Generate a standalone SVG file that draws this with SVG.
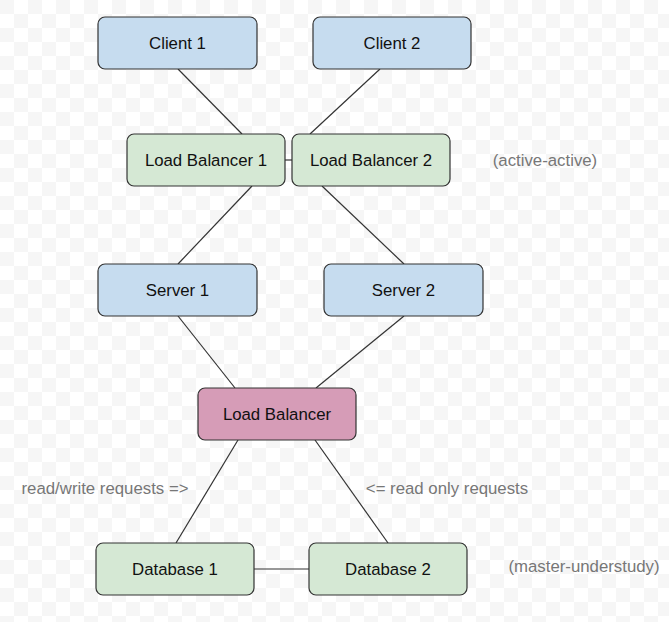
<svg xmlns="http://www.w3.org/2000/svg" width="669" height="622" viewBox="0 0 669 622">
<style>
.n rect{stroke:#333;stroke-width:1.2}
.b rect{fill:#c6dcef}.g rect{fill:#d5e8d4}.p rect{fill:#d69cb7}
text{font-family:"Liberation Sans",Arial,sans-serif;font-size:16.8px;fill:#111;text-anchor:middle;dominant-baseline:central}
.lbl{fill:#777}
#edges line{stroke:#333;stroke-width:1.2}
</style>
<defs><pattern id="ck" width="28" height="28" patternUnits="userSpaceOnUse"><rect width="28" height="28" fill="#fff"/><rect width="14" height="14" fill="#f6f6f6"/><rect x="14" y="14" width="14" height="14" fill="#f6f6f6"/></pattern></defs>
<rect width="669" height="622" fill="url(#ck)"/>
<g id="edges">
<line x1="178" y1="69" x2="242" y2="134"/>
<line x1="380" y1="69" x2="310" y2="134"/>
<line x1="285" y1="160" x2="292" y2="160"/>
<line x1="252" y1="186" x2="178" y2="264"/>
<line x1="322" y1="186" x2="404" y2="264"/>
<line x1="178" y1="316" x2="235" y2="388"/>
<line x1="404" y1="316" x2="316" y2="388"/>
<line x1="238" y1="440" x2="176" y2="543"/>
<line x1="315" y1="440" x2="388" y2="543"/>
<line x1="254" y1="569" x2="309" y2="569"/>
</g>
<g id="client1" class="n b"><rect x="98" y="17" width="159" height="52" rx="7"/><text x="177.5" y="43">Client 1</text></g>
<g id="client2" class="n b"><rect x="313" y="17" width="158" height="52" rx="7"/><text x="392" y="43">Client 2</text></g>
<g id="lb1" class="n g"><rect x="127" y="134" width="158" height="52" rx="7"/><text x="206" y="160">Load Balancer 1</text></g>
<g id="lb2" class="n g"><rect x="292" y="134" width="158" height="52" rx="7"/><text x="371" y="160">Load Balancer 2</text></g>
<g id="server1" class="n b"><rect x="98" y="264" width="159" height="52" rx="7"/><text x="177.5" y="290">Server 1</text></g>
<g id="server2" class="n b"><rect x="324" y="264" width="159" height="52" rx="7"/><text x="403.5" y="290">Server 2</text></g>
<g id="lb" class="n p"><rect x="198" y="388" width="158" height="52" rx="7"/><text x="277" y="414">Load Balancer</text></g>
<g id="db1" class="n g"><rect x="96" y="543" width="158" height="52" rx="7"/><text x="175" y="569">Database 1</text></g>
<g id="db2" class="n g"><rect x="309" y="543" width="158" height="52" rx="7"/><text x="388" y="569">Database 2</text></g>
<g id="labels">
<text class="lbl" x="545" y="160">(active-active)</text>
<text class="lbl" x="105" y="488">read/write requests =&gt;</text>
<text class="lbl" x="447" y="488">&lt;= read only requests</text>
<text class="lbl" x="584" y="566">(master-understudy)</text>
</g>
</svg>
